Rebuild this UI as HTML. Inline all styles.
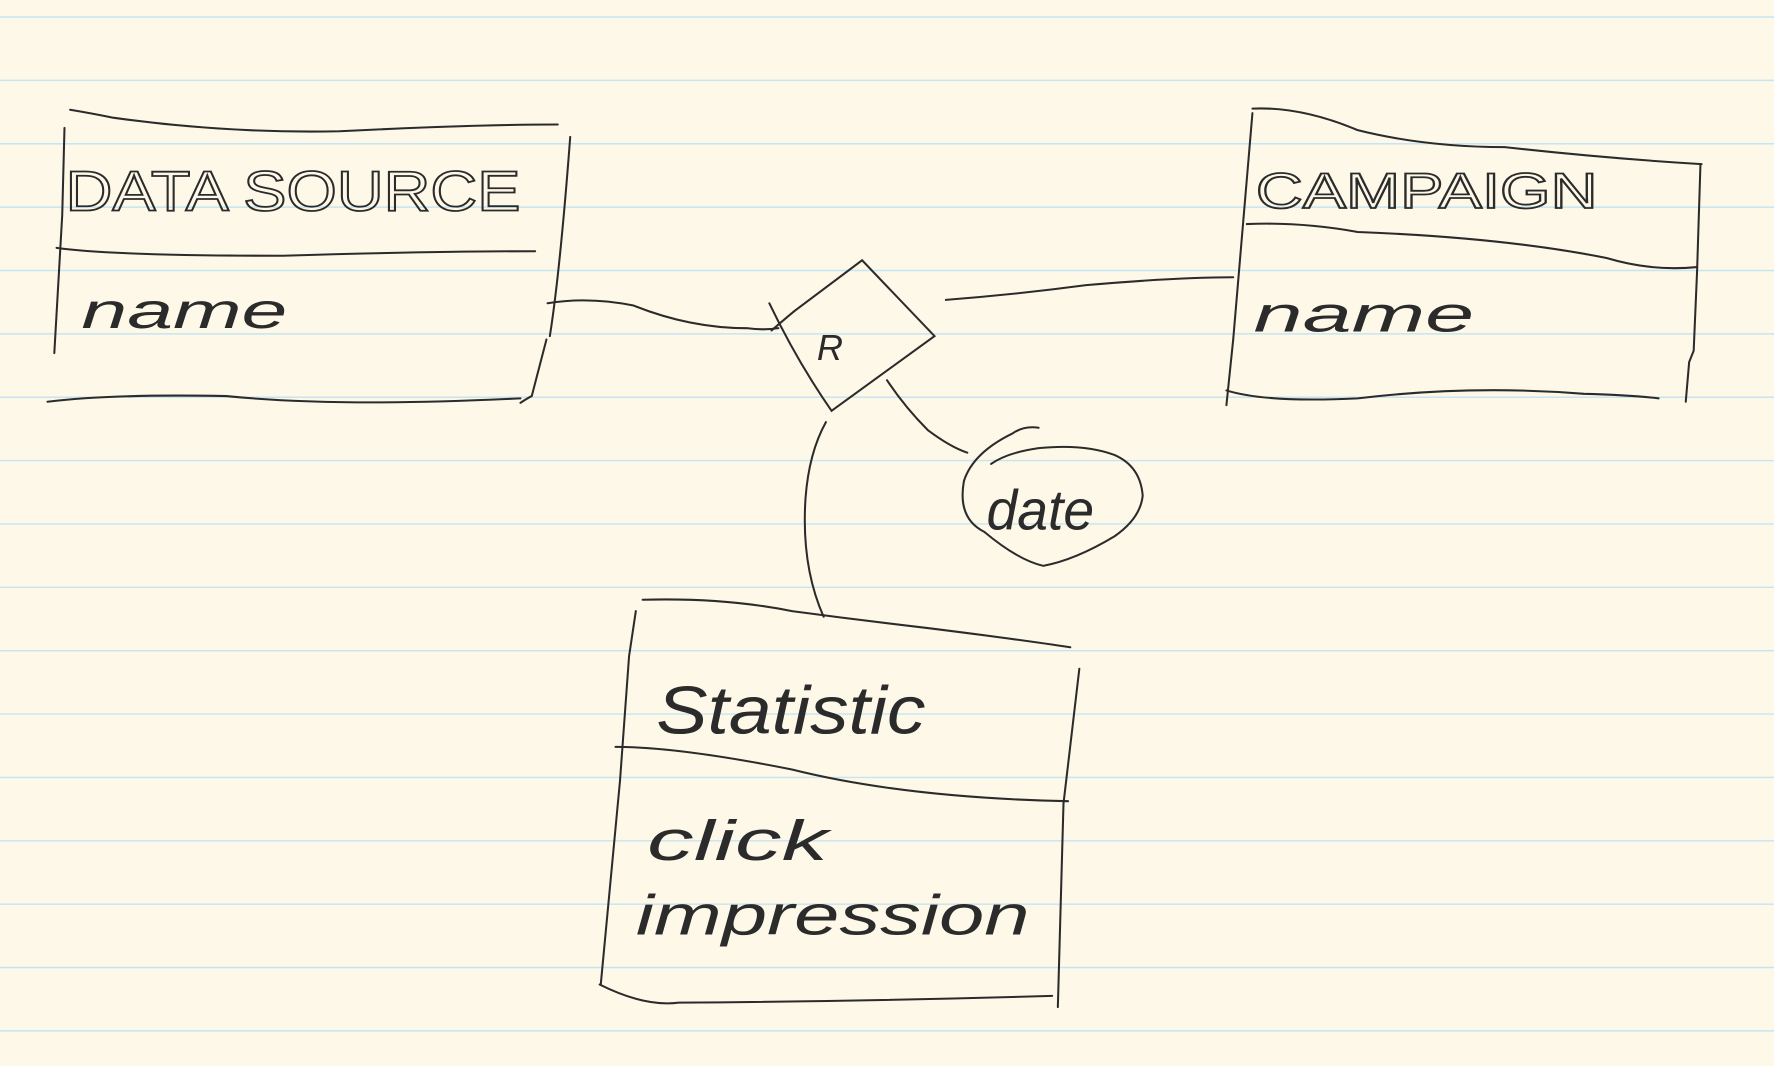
<!DOCTYPE html>
<html><head><meta charset="utf-8"><style>
html,body{margin:0;padding:0;background:#fdf8e8;}
svg{display:block}
text{font-family:"Liberation Sans",sans-serif;fill:#2b2b2b;stroke:none}
</style></head><body>
<svg width="1774" height="1066" viewBox="0 0 1568 942" preserveAspectRatio="none" xmlns="http://www.w3.org/2000/svg">
<rect width="1568" height="942" fill="#fdf8e8"/>
<g stroke="#c5e5f2" stroke-width="1.3">
<line x1="0" y1="15" x2="1568" y2="15"/><line x1="0" y1="71" x2="1568" y2="71"/><line x1="0" y1="127" x2="1568" y2="127"/><line x1="0" y1="183" x2="1568" y2="183"/><line x1="0" y1="239" x2="1568" y2="239"/><line x1="0" y1="295" x2="1568" y2="295"/><line x1="0" y1="351" x2="1568" y2="351"/><line x1="0" y1="407" x2="1568" y2="407"/><line x1="0" y1="463" x2="1568" y2="463"/><line x1="0" y1="519" x2="1568" y2="519"/><line x1="0" y1="575" x2="1568" y2="575"/><line x1="0" y1="631" x2="1568" y2="631"/><line x1="0" y1="687" x2="1568" y2="687"/><line x1="0" y1="743" x2="1568" y2="743"/><line x1="0" y1="799" x2="1568" y2="799"/><line x1="0" y1="855" x2="1568" y2="855"/><line x1="0" y1="911" x2="1568" y2="911"/>
</g>
<g fill="none" stroke="#2b2b2b" stroke-width="1.8" stroke-linecap="round">
<path d="M62 97 Q80 100 100 104 Q200 118 300 116 Q420 110 493 110"/>
<path d="M57 113 L55 190 L48 312"/>
<path d="M504 121 Q495 240 486 297"/>
<path d="M483 300 L470 350 Q466 352 460 356"/>
<path d="M42 355 Q100 348 200 350 Q300 360 460 352"/>
<path d="M50 219 Q100 226 250 226 Q380 222 473 222"/>
<path d="M1107 96 Q1150 94 1200 115 Q1260 130 1330 130 Q1420 140 1504 145"/>
<path d="M1107 100 L1090 300 L1084 358"/>
<path d="M1503 145 L1500 240 L1497 310 L1493 320 L1490 355"/>
<path d="M1084 345 Q1120 356 1200 352 Q1300 340 1400 348 Q1440 349 1466 352"/>
<path d="M1102 198 Q1150 196 1200 205 Q1330 210 1420 228 Q1460 240 1500 236"/>
<path d="M568 530 Q640 528 700 540 Q760 548 820 555 Q900 565 946 572"/>
<path d="M562 540 L556 580 L548 690 L531 870"/>
<path d="M954 591 L940 710 L935 890"/>
<path d="M530 870 Q570 890 600 886 Q760 885 930 880"/>
<path d="M544 660 Q600 660 700 680 Q800 705 944 708"/>
<path d="M680 268 Q705 320 735 363 L826 297 L762 230 L702 275 Q690 285 682 292"/>
<path d="M484 268 Q520 262 560 270 Q610 290 660 290 Q675 292 688 290"/>
<path d="M836 265 Q900 260 960 252 Q1040 245 1090 245"/>
<path d="M730 373 Q715 400 712 440 Q708 500 728 545"/>
<path d="M784 336 Q800 360 820 380 Q840 395 855 400"/>
<path d="M918 378 Q905 376 895 383 Q860 400 852 425 Q846 458 870 470 Q900 495 922 500 Q950 495 985 474 Q1008 458 1010 438 Q1008 412 985 402 Q958 392 918 396 Q890 400 876 410"/>
</g>
<text x="58" y="186" font-size="50" textLength="402" lengthAdjust="spacingAndGlyphs" style="fill:none;stroke:#2b2b2b;stroke-width:1.6">DATA SOURCE</text>
<text x="72" y="290" font-size="44" textLength="182" lengthAdjust="spacingAndGlyphs" style="font-style:italic">name</text>
<text x="1110" y="184" font-size="44" textLength="302" lengthAdjust="spacingAndGlyphs" style="fill:none;stroke:#2b2b2b;stroke-width:1.6">CAMPAIGN</text>
<text x="1108" y="293" font-size="44" textLength="195" lengthAdjust="spacingAndGlyphs" style="font-style:italic">name</text>
<text x="722" y="318" font-size="32" style="font-style:italic">R</text>
<text x="872" y="468" font-size="50" textLength="95" lengthAdjust="spacingAndGlyphs" style="font-style:italic">date</text>
<text x="580" y="648" font-size="60" textLength="238" lengthAdjust="spacingAndGlyphs" style="font-style:italic">Statistic</text>
<text x="572" y="760" font-size="50" textLength="160" lengthAdjust="spacingAndGlyphs" style="font-style:italic">click</text>
<text x="562" y="826" font-size="50" textLength="348" lengthAdjust="spacingAndGlyphs" style="font-style:italic">impression</text>
</svg>
</body></html>
